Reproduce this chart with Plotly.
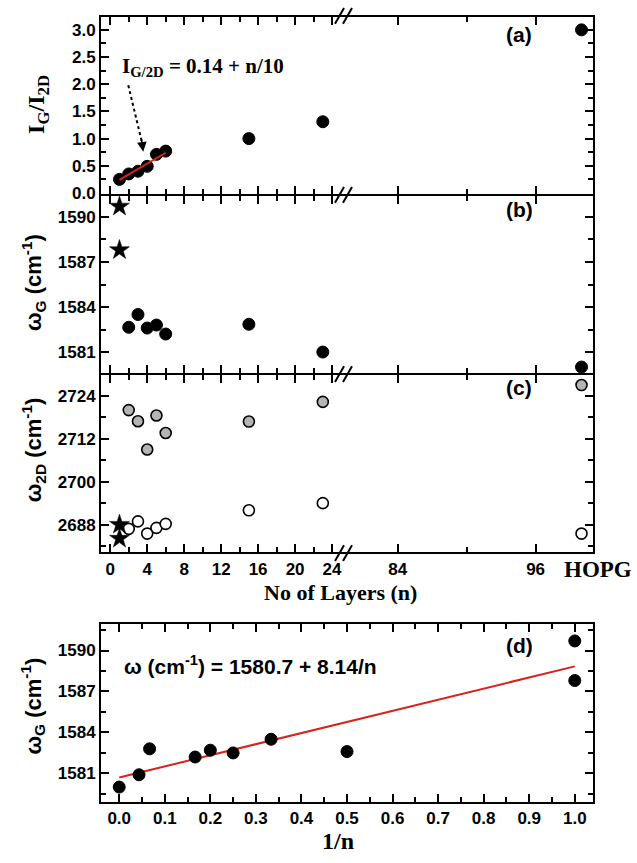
import plotly.graph_objects as go

# ---------------- data ----------------
# panel (a): I_G / I_2D vs number of layers
n_a = [1, 2, 3, 4, 5, 6, 15, 23]
ratio_a = [0.25, 0.35, 0.40, 0.49, 0.71, 0.77, 1.00, 1.31]
hopg_ratio = [3.0]
fit_a_n = [1, 6]
fit_a_intercept, fit_a_slope = 0.14, 0.10

# panel (b): omega_G vs number of layers
n_b_star = [1, 1]
omega_g_star = [1590.7, 1587.8]
n_b = [2, 3, 4, 5, 6, 15, 23]
omega_g = [1582.65, 1583.5, 1582.6, 1582.8, 1582.2, 1582.85, 1581.0]
hopg_omega_g = [1580.0]

# panel (c): omega_2D vs number of layers
n_c_star = [1, 1]
omega_2d_star = [2688.0, 2684.1]
n_c = [2, 3, 4, 5, 6, 15, 23]
omega_2d_high = [2720.0, 2716.9, 2709.0, 2718.5, 2713.6, 2716.8, 2722.3]
omega_2d_low = [2686.8, 2688.9, 2685.5, 2687.1, 2688.2, 2692.0, 2694.0]
hopg_2d_high = [2727.0]
hopg_2d_low = [2685.5]

# HOPG position on the broken axis
hopg_x = [100]

# panel (d): omega_G vs 1/n
inv_n = [0.0, 1 / 23, 1 / 15, 1 / 6, 1 / 5, 1 / 4, 1 / 3, 1 / 2, 1.0, 1.0]
omega_d = [1580.0, 1580.9, 1582.8, 1582.2, 1582.7, 1582.5, 1583.5, 1582.6, 1590.7, 1587.8]
fit_d_x = [0.0, 1.0]
fit_d_intercept, fit_d_slope = 1580.7, 8.14

# tick labels
x_left_ticks = [0, 4, 8, 12, 16, 20, 24]
x_right_ticks = [84, 96]
x_right_minor = [90]
yb_ticks = [1581, 1584, 1587, 1590]
yc_ticks = [2688, 2700, 2712, 2724]

# ---------------- layout helpers ----------------
W, H = 637, 863


def px(x):
    return x / W


def py(y):
    return 1 - y / H


XL = [px(101), px(345)]
XR = [px(345), px(593)]
XD = [px(101), px(593)]
# plot areas (pixels from top); axis lines sit 1px outside, so adjacent panels
# leave 1px on each side so that their frame lines coincide
ROWS = {
    "a": [py(196), py(17)],
    "b": [py(377), py(198)],
    "c": [py(558), py(379)],
    "d": [py(810), py(631)],
}

TICKFONT = dict(family="Liberation Sans, Arial", size=17, color="black", weight="bold")
SERIF = "Liberation Serif, Times New Roman"
SANS = "Liberation Sans, Arial"

MINOR = dict(ticks="inside", ticklen=5, tickwidth=2, tickcolor="black", showgrid=False)


def axis(**kw):
    d = dict(showline=True, linecolor="black", linewidth=2, ticks="inside", ticklen=8,
             tickwidth=2, tickcolor="black", showgrid=False, zeroline=False,
             tickfont=TICKFONT, fixedrange=True)
    d.update(kw)
    return d


fig = go.Figure()

BLACK = dict(color="black", size=12, line=dict(color="black", width=1))
OPEN = dict(color="white", size=11, line=dict(color="black", width=1.6))
GRAY = dict(color="#b4b4b4", size=11, line=dict(color="black", width=1.6))
STAR = dict(color="black", size=15, symbol="star", line=dict(color="black", width=0.5))


def sc(x, y, xa, ya, marker=None, mode="markers", line=None):
    kw = dict(x=x, y=y, xaxis=xa, yaxis=ya, mode=mode, showlegend=False, cliponaxis=False,
              hoverinfo="skip")
    if marker is not None:
        kw["marker"] = marker
    if line is not None:
        kw["line"] = line
    fig.add_trace(go.Scatter(**kw))


# panel (a)
sc(n_a, ratio_a, "x", "y", BLACK)
sc(fit_a_n, [fit_a_intercept + fit_a_slope * n for n in fit_a_n], "x", "y",
   mode="lines", line=dict(color="#d8231c", width=2))
sc(hopg_x, hopg_ratio, "x2", "y2", BLACK)

# panel (b)
sc(n_b_star, omega_g_star, "x3", "y3", STAR)
sc(n_b, omega_g, "x3", "y3", BLACK)
sc(hopg_x, hopg_omega_g, "x4", "y4", BLACK)

# panel (c)
sc(n_c, omega_2d_high, "x5", "y5", GRAY)
sc(n_c, omega_2d_low, "x5", "y5", OPEN)
sc(n_c_star, omega_2d_star, "x5", "y5", STAR)
sc(hopg_x, hopg_2d_high, "x6", "y6", GRAY)
sc(hopg_x, hopg_2d_low, "x6", "y6", OPEN)

# panel (d)
sc(fit_d_x, [fit_d_intercept + fit_d_slope * v for v in fit_d_x], "x7", "y7",
   mode="lines", line=dict(color="#d8231c", width=2))
sc(inv_n, omega_d, "x7", "y7", BLACK)

xl_range = [-1, 25.4]
xr_range = [79.4, 101]

layout = dict(
    width=W, height=H, margin=dict(l=0, r=0, t=0, b=0),
    paper_bgcolor="white", plot_bgcolor="white", showlegend=False,
)

rows = [("a", 1, 2, [-0.018, 3.24]), ("b", 3, 4, [1579.6, 1591.4]), ("c", 5, 6, [2680.3, 2729.8])]
for key, li, ri, yr in rows:
    lname = "xaxis" if li == 1 else f"xaxis{li}"
    lyname = "yaxis" if li == 1 else f"yaxis{li}"
    ly = "y" if li == 1 else f"y{li}"
    lx = "x" if li == 1 else f"x{li}"
    show_x = key == "c"
    layout[lname] = axis(domain=XL, range=xl_range, anchor=ly, mirror="ticks",
                         tickmode="array", tickvals=x_left_ticks, showticklabels=show_x,
                         minor=dict(MINOR, dtick=2, tick0=0))
    layout[f"xaxis{ri}"] = axis(domain=XR, range=xr_range, anchor=f"y{ri}", mirror="ticks",
                                tickmode="array", tickvals=x_right_ticks, showticklabels=show_x,
                                minor=dict(MINOR, tickmode="array", tickvals=x_right_minor))
    if key == "a":
        yk = dict(tickmode="linear", dtick=0.5, tick0=0, tickformat=".1f",
                  minor=dict(MINOR, dtick=0.25, tick0=0))
    elif key == "b":
        yk = dict(tickmode="array", tickvals=yb_ticks, minor=dict(MINOR, dtick=1.5, tick0=1581))
    else:
        yk = dict(tickmode="array", tickvals=yc_ticks, minor=dict(MINOR, dtick=6, tick0=2688))
    layout[lyname] = axis(domain=ROWS[key], range=yr, anchor=lx, side="left", **yk)
    layout[f"yaxis{ri}"] = axis(domain=ROWS[key], range=yr, anchor=f"x{ri}", side="right",
                                showticklabels=False, **yk)

layout["xaxis7"] = axis(domain=XD, range=[-0.04, 1.04], anchor="y7", mirror="ticks",
                        tickmode="linear", dtick=0.1, tick0=0, tickformat=".1f",
                        minor=dict(MINOR, dtick=0.05, tick0=0))
layout["yaxis7"] = axis(domain=ROWS["d"], range=[1578.94, 1591.91], anchor="x7", mirror="ticks",
                        tickmode="array", tickvals=yb_ticks,
                        minor=dict(MINOR, dtick=1.5, tick0=1581))

fig.update_layout(**layout)

# ---------------- annotations ----------------
ann = []


def text(x, y, t, size, family=SANS, angle=0, xanchor="center", weight="bold"):
    ann.append(dict(x=x, y=y, xref="paper", yref="paper", text=t, showarrow=False,
                    textangle=angle, xanchor=xanchor, yanchor="middle",
                    font=dict(family=family, size=size, color="black", weight=weight)))


for lab, yy in [("(a)", 35), ("(b)", 212), ("(c)", 392), ("(d)", 652)]:
    text(px(519), py(yy), lab, 21)

text(px(120), py(68), "I<sub>G/2D</sub> = 0.14 + n/10", 21, family=SERIF, xanchor="left")
text(px(122), py(672), "ω (cm<sup>-1</sup>) = 1580.7 + 8.14/n", 21, xanchor="left")

text(px(38), py(106), "I<sub>G</sub>/I<sub>2D</sub>", 24, family=SERIF, angle=-90)
text(px(33), py(286), "ω<sub>G</sub> (cm<sup>-1</sup>)", 22, angle=-90)
text(px(33), py(455), "ω<sub>2D</sub> (cm<sup>-1</sup>)", 22, angle=-90)
text(px(33), py(714), "ω<sub>G</sub> (cm<sup>-1</sup>)", 22, angle=-90)

text(px(340), py(599), "No of Layers (n)", 22, family=SERIF)
text(px(598), py(575), "HOPG", 23, family=SERIF)
text(px(338), py(850), "1/n", 24, family=SERIF)

# arrow head of the dotted pointer in panel (a)
ann.append(dict(x=3.57, y=0.76, xref="x", yref="y", ax=3.35, ay=1.02, axref="x", ayref="y",
                text="", showarrow=True, arrowhead=2, arrowsize=1.2, arrowwidth=1.6,
                arrowcolor="black"))

fig.update_layout(annotations=ann)

# ---------------- shapes: dotted pointer and axis-break marks ----------------
shapes = [dict(type="line", xref="x", yref="y", x0=1.95, y0=1.98, x1=3.45, y1=0.92,
               line=dict(color="black", width=2, dash="dot"))]
for yb in [16, 197, 378, 559]:
    for x0 in [335, 343]:
        shapes.append(dict(type="line", xref="paper", yref="paper",
                           x0=px(x0), y0=py(yb + 8), x1=px(x0 + 9), y1=py(yb - 8),
                           line=dict(color="black", width=2)))
fig.update_layout(shapes=shapes)

fig.write_html("out.html")
